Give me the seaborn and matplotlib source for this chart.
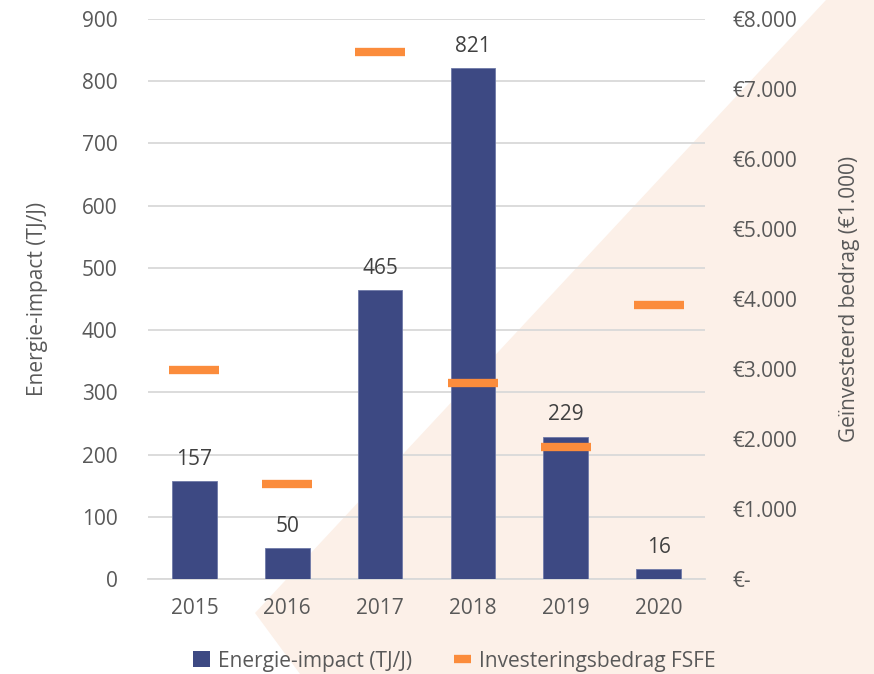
import numpy as np
import pandas as pd
import seaborn as sns
import matplotlib.pyplot as plt
from matplotlib.patches import Polygon
from matplotlib.lines import Line2D
from matplotlib.patches import Patch

sns.set_style('white')
plt.rcParams['font.family'] = ['Open Sans', 'DejaVu Sans']

years = ['2015', '2016', '2017', '2018', '2019', '2020']
energie_impact = [157, 50, 465, 821, 229, 16]
investering = [2990, 1360, 7530, 2800, 1880, 3910]

NAVY = '#3d4983'
ORANGE = '#fb8c3c'
PEACH = '#fcf0e8'
GREY = '#595959'
W, H = 874, 674
DPI = 100
FS = 15

df = pd.DataFrame({'jaar': years, 'energie': energie_impact, 'invest': investering})

fig = plt.figure(figsize=(W / DPI, H / DPI), dpi=DPI)
fig.patch.set_facecolor('white')

# peach background shape (figure pixel corners)
shape = [(826, 0), (W, 0), (W, H), (300, H), (255, 613)]
fig.patches.append(Polygon([(x / W, 1 - y / H) for x, y in shape],
                           closed=True, transform=fig.transFigure,
                           facecolor=PEACH, edgecolor='none', zorder=-5))

ax = fig.add_axes([148 / W, 1 - 579 / H, (705 - 148) / W, (579 - 19) / H])
ax.set_facecolor('none')

sns.barplot(data=df, x='jaar', y='energie', color=NAVY, width=0.48,
            edgecolor='#6f7aa8', linewidth=0.6, saturation=1, ax=ax, zorder=3)
ax.bar_label(ax.containers[0], padding=8, fontsize=FS, color='#404040')

ax.set_ylim(0, 900)
ax.set_xlim(-0.5, len(years) - 0.5)
ax.set_yticks(np.arange(0, 901, 100))
ax.grid(axis='y', color='#d9d9d9', linewidth=1.3, zorder=0)
ax.set_axisbelow(True)
for s in ['top', 'right', 'left']:
    ax.spines[s].set_visible(False)
ax.spines['bottom'].set_color('#d9d9d9')
ax.spines['bottom'].set_linewidth(1.3)
ax.tick_params(axis='both', length=0, labelsize=FS, colors=GREY)
ax.tick_params(axis='y', pad=22)
ax.tick_params(axis='x', pad=14)
ax.set_xlabel('')
ax.set_ylabel('Energie-impact (TJ/J)', fontsize=FS, color=GREY, labelpad=24)

ax2 = ax.twinx()
ax2.plot(range(len(years)), investering, linestyle='none', marker='_',
         markersize=36, markeredgewidth=6, color=ORANGE, zorder=4)
ax2.set_ylim(0, 8000)
ax2.set_yticks(np.arange(0, 8001, 1000))
ax2.set_yticklabels(['€-'] + [f'€{v // 1000}.000' for v in range(1000, 8001, 1000)])
for s in ax2.spines.values():
    s.set_visible(False)
ax2.tick_params(axis='y', length=0, labelsize=FS, colors=GREY, pad=20)
ax2.set_ylabel('Geïnvesteerd bedrag (€1.000)', fontsize=FS, color=GREY, labelpad=30)

handles = [Patch(facecolor=NAVY, edgecolor='none', label='Energie-impact (TJ/J)'),
           Line2D([0], [0], color=ORANGE, linewidth=6, solid_capstyle='butt',
                  label='Investeringsbedrag FSFE')]
leg = fig.legend(handles=handles, loc='center', bbox_to_anchor=(0.52, 1 - 661 / H),
                 ncol=2, frameon=False, fontsize=FS, handlelength=0.8,
                 handleheight=0.8, handletextpad=0.4, columnspacing=2.0)
for t in leg.get_texts():
    t.set_color(GREY)

fig.savefig('out.png', dpi=DPI)
